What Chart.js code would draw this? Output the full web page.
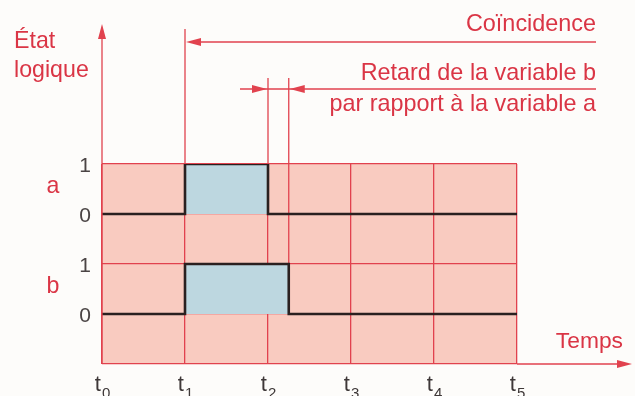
<!DOCTYPE html>
<html lang="fr">
<head>
<meta charset="utf-8">
<title>État logique</title>
<script src="https://cdn.jsdelivr.net/npm/chart.js@4.4.1/dist/chart.umd.min.js"></script>
<style>
  html, body { margin: 0; padding: 0; background: #fdfcfa; }
  #wrap { width: 635px; height: 396px; position: relative; }
</style>
</head>
<body>
<div id="wrap"><canvas id="chrono" width="635" height="396"></canvas></div>
<script>
// Chronogramme de deux variables logiques a et b
const timeTicks = ['0', '1', '2', '3', '4', '5'];     // indices de t0 ... t5
const rowNames = ['a', 'b'];
const stateNames = ['1', '0'];

// instants et états successifs de chaque variable
const aTimes = [0, 1, 1, 2, 2, 5];
const aStates = [0, 0, 1, 1, 0, 0];
const bTimes = [0, 1, 1, 2.25, 2.25, 5];
const bStates = [0, 0, 1, 1, 0, 0];

const aBase = 3;   // ligne du 0 de a
const bBase = 1;   // ligne du 0 de b

const RED = '#e1424e';
const TEXT_RED = '#da3545';
const PINK = '#f9cbc0';
const BLUE = '#bdd7e0';
const INK = '#2a2020';
const FONT = '"Liberation Sans", Arial, sans-serif';

function toPoints(times, states, base) {
    return times.map((t, i) => ({ x: t, y: base + states[i] }));
}

function arrowHead(ctx, x, y, dir) {
    // dir : 'left', 'right', 'up'
    const len = 15, half = 4;
    ctx.beginPath();
    ctx.moveTo(x, y);
    if (dir === 'left') { ctx.lineTo(x + len, y - half); ctx.lineTo(x + len, y + half); }
    if (dir === 'right') { ctx.lineTo(x - len, y - half); ctx.lineTo(x - len, y + half); }
    if (dir === 'up') { ctx.lineTo(x - half, y + len); ctx.lineTo(x + half, y + len); }
    ctx.closePath();
    ctx.fill();
}

function line(ctx, x1, y1, x2, y2) {
    ctx.beginPath();
    ctx.moveTo(x1, y1);
    ctx.lineTo(x2, y2);
    ctx.stroke();
}

const chronoPlugin = {
    id: 'chrono',
    beforeDraw(chart) {
        const { ctx, chartArea: a } = chart;
        ctx.save();
        ctx.fillStyle = PINK;
        ctx.fillRect(a.left, a.top, a.right - a.left, a.bottom - a.top);
        ctx.restore();
    },
    beforeDatasetsDraw(chart) {
        const { ctx, scales: { x, y } } = chart;
        const bFall = bTimes[3];
        ctx.save();
        ctx.strokeStyle = RED;
        ctx.lineWidth = 1.3;
        // prolongement du front descendant de b jusqu'à la cote de retard
        line(ctx, x.getPixelForValue(bFall), y.getPixelForValue(bBase + 1), x.getPixelForValue(bFall), 78);
        ctx.restore();
    },
    afterDraw(chart) {
        const { ctx, chartArea: a, scales: { x, y } } = chart;
        const x0 = x.getPixelForValue(0);
        const x1 = x.getPixelForValue(aTimes[1]);
        const x2 = x.getPixelForValue(aTimes[3]);
        const xb = x.getPixelForValue(bTimes[3]);
        const right = 596;

        ctx.save();
        ctx.strokeStyle = RED;
        ctx.fillStyle = RED;
        ctx.lineWidth = 1.3;

        // axe vertical "État logique"
        line(ctx, x0, a.bottom, x0, 30);
        arrowHead(ctx, x0, 24, 'up');

        // axe du temps
        line(ctx, a.right, a.bottom, 625, a.bottom);
        arrowHead(ctx, 632, a.bottom, 'right');

        // repères verticaux au-dessus de la grille
        line(ctx, x1, a.top, x1, 29);
        line(ctx, x2, a.top, x2, 78);

        // cote de coïncidence
        line(ctx, x1 + 8, 42, right, 42);
        arrowHead(ctx, x1 + 1, 42, 'left');

        // cote de retard
        line(ctx, 240, 89, right, 89);
        arrowHead(ctx, x2 - 1, 89, 'right');
        arrowHead(ctx, xb + 1, 89, 'left');

        // textes rouges
        ctx.fillStyle = TEXT_RED;
        ctx.font = '23.4px ' + FONT;
        ctx.textBaseline = 'alphabetic';
        ctx.textAlign = 'right';
        ctx.fillText('Coïncidence', right, 31);
        ctx.fillText('Retard de la variable b', right, 80);
        ctx.fillText('par rapport à la variable a', right, 111);
        ctx.font = '22.8px ' + FONT;
        ctx.fillText('Temps', 623, 348);

        ctx.textAlign = 'left';
        ctx.font = '23.2px ' + FONT;
        ctx.fillText('État', 14, 48);
        ctx.fillText('logique', 14, 77);

        // noms des variables
        ctx.textAlign = 'center';
        ctx.textBaseline = 'middle';
        ctx.fillText(rowNames[0], 53, y.getPixelForValue(aBase + 0.5) - 2);
        ctx.fillText(rowNames[1], 53, y.getPixelForValue(bBase + 0.5) - 2);

        // états 1 / 0
        ctx.fillStyle = '#4a4444';
        ctx.font = '21px ' + FONT;
        ctx.textAlign = 'right';
        [aBase, bBase].forEach(base => {
            ctx.fillText(stateNames[0], 91, y.getPixelForValue(base + 1) + 2);
            ctx.fillText(stateNames[1], 91, y.getPixelForValue(base) + 2);
        });

        // instants t0 ... t5 avec indice
        ctx.fillStyle = '#3e3838';
        ctx.textBaseline = 'alphabetic';
        ctx.textAlign = 'left';
        timeTicks.forEach((sub, i) => {
            const px = x.getPixelForValue(i);
            ctx.font = '22px ' + FONT;
            const wt = ctx.measureText('t').width;
            ctx.font = '15px ' + FONT;
            const ws = ctx.measureText(sub).width;
            const start = px - (wt + ws) / 2;
            ctx.font = '22px ' + FONT;
            ctx.fillText('t', start, 391);
            ctx.font = '15px ' + FONT;
            ctx.fillText(sub, start + wt + 1, 398);
        });
        ctx.restore();
    }
};

new Chart(document.getElementById('chrono'), {
    type: 'line',
    data: {
        datasets: [
            {
                label: 'a',
                data: toPoints(aTimes, aStates, aBase),
                borderColor: INK,
                borderWidth: 2.6,
                backgroundColor: BLUE,
                fill: { value: aBase },
                pointRadius: 0,
                tension: 0
            },
            {
                label: 'b',
                data: toPoints(bTimes, bStates, bBase),
                borderColor: INK,
                borderWidth: 2.6,
                backgroundColor: BLUE,
                fill: { value: bBase },
                pointRadius: 0,
                tension: 0
            }
        ]
    },
    options: {
        responsive: false,
        animation: false,
        events: [],
        layout: { padding: { left: 102, right: 118, top: 164, bottom: 32 } },
        plugins: {
            legend: { display: false },
            tooltip: { enabled: false }
        },
        scales: {
            x: {
                type: 'linear',
                min: 0,
                max: 5,
                ticks: { display: false, stepSize: 1 },
                grid: { color: RED, lineWidth: 1.3, drawTicks: false },
                border: { display: false }
            },
            y: {
                type: 'linear',
                min: 0,
                max: 4,
                ticks: { display: false, stepSize: 1 },
                grid: { color: RED, lineWidth: 1.3, drawTicks: false },
                border: { display: false }
            }
        }
    },
    plugins: [chronoPlugin]
});
</script>
</body>
</html>
